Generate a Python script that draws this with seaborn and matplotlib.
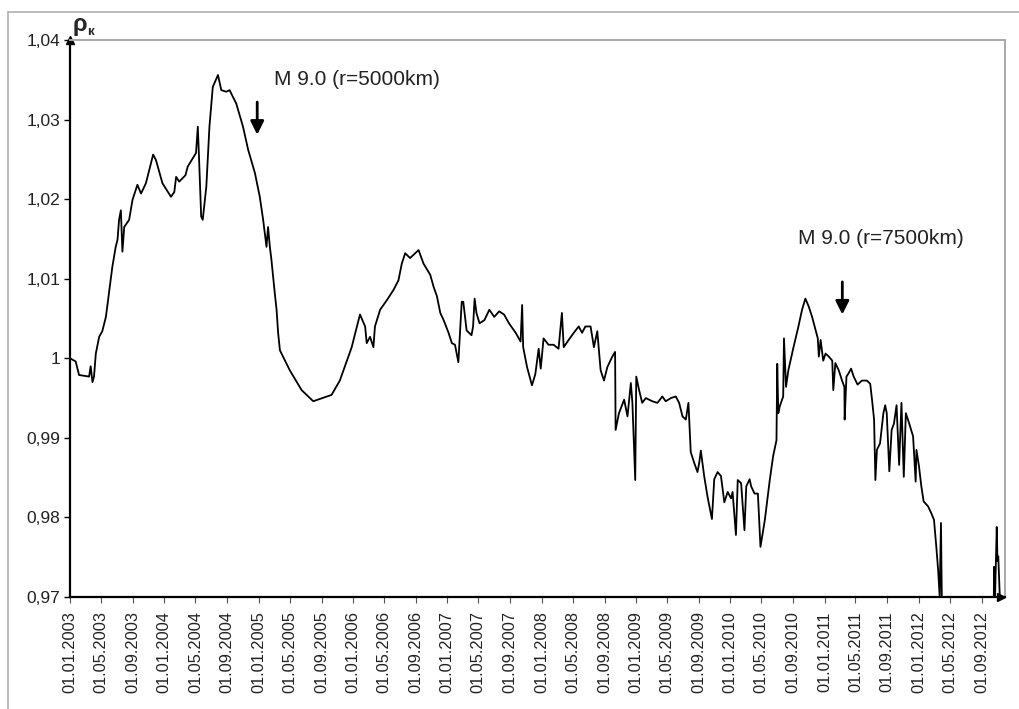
import pandas as pd
import matplotlib
matplotlib.use("Agg")
import matplotlib.pyplot as plt
import matplotlib.dates as mdates
from matplotlib.ticker import MultipleLocator, FuncFormatter
from matplotlib.lines import Line2D
import seaborn as sns

# --- data ---
dates = [
    "2003-01-01", "2003-01-23", "2003-02-05", "2003-03-16", "2003-03-22", "2003-03-29", "2003-04-04",
    "2003-04-11", "2003-04-24", "2003-05-06", "2003-05-20", "2003-06-01", "2003-06-14", "2003-06-27",
    "2003-07-04", "2003-07-10", "2003-07-17", "2003-07-23", "2003-07-30", "2003-08-18", "2003-08-31",
    "2003-09-19", "2003-10-03", "2003-10-22", "2003-11-19", "2003-11-30", "2003-12-25",
    "2004-01-27", "2004-02-09", "2004-02-16", "2004-02-28", "2004-03-23", "2004-04-01", "2004-04-20",
    "2004-05-03", "2004-05-10", "2004-05-14", "2004-05-23", "2004-05-29", "2004-06-12", "2004-06-24",
    "2004-07-07", "2004-07-27", "2004-08-09", "2004-08-28", "2004-09-10", "2004-10-06", "2004-11-01",
    "2004-11-21", "2004-12-17",
    "2005-01-05", "2005-01-18", "2005-01-31", "2005-02-06", "2005-02-13", "2005-02-19", "2005-03-04",
    "2005-03-11", "2005-03-17", "2005-03-24", "2005-05-01", "2005-06-16", "2005-07-31", "2005-10-10",
    "2005-11-11", "2005-12-27",
    "2006-01-28", "2006-02-17", "2006-02-23", "2006-03-08", "2006-03-21", "2006-03-27", "2006-04-16",
    "2006-05-12", "2006-06-07", "2006-06-26", "2006-07-09", "2006-07-22", "2006-08-10", "2006-09-12",
    "2006-10-01", "2006-10-27", "2006-11-09", "2006-11-22", "2006-12-05", "2006-12-18",
    "2007-01-06", "2007-01-19", "2007-01-31", "2007-02-13", "2007-02-26", "2007-03-04", "2007-03-17",
    "2007-04-05", "2007-04-11", "2007-04-17", "2007-04-24", "2007-05-06", "2007-05-25", "2007-06-13",
    "2007-07-02", "2007-07-21", "2007-08-09", "2007-08-28", "2007-09-23", "2007-10-12", "2007-10-18",
    "2007-10-22", "2007-11-06", "2007-11-25", "2007-12-08", "2007-12-21", "2007-12-29",
    "2008-01-09", "2008-01-28", "2008-02-17", "2008-03-07", "2008-03-20", "2008-03-27", "2008-04-15",
    "2008-05-05", "2008-05-24", "2008-06-06", "2008-06-19", "2008-07-09", "2008-07-22", "2008-08-04",
    "2008-08-17", "2008-08-30", "2008-09-12", "2008-10-01", "2008-10-12", "2008-10-14", "2008-10-27",
    "2008-11-16", "2008-11-29", "2008-12-12", "2008-12-18", "2008-12-29",
    "2009-01-02", "2009-01-13", "2009-01-25", "2009-02-08", "2009-03-05", "2009-03-25", "2009-04-13",
    "2009-04-26", "2009-05-16", "2009-06-04", "2009-06-17", "2009-06-30", "2009-07-13", "2009-07-23",
    "2009-08-01", "2009-08-14", "2009-08-27", "2009-09-03", "2009-09-09", "2009-09-22", "2009-10-05",
    "2009-10-22", "2009-10-31", "2009-11-13", "2009-11-26", "2009-12-09", "2009-12-22",
    "2010-01-04", "2010-01-10", "2010-01-23", "2010-01-30", "2010-02-12", "2010-02-25", "2010-03-04",
    "2010-03-17", "2010-03-23", "2010-04-05", "2010-04-18", "2010-04-28", "2010-05-15", "2010-06-03",
    "2010-06-16", "2010-06-29", "2010-07-02", "2010-07-06", "2010-07-12", "2010-07-25", "2010-07-28",
    "2010-08-05", "2010-08-14", "2010-09-03", "2010-09-22", "2010-10-06", "2010-10-19", "2010-11-01",
    "2010-11-14", "2010-11-27", "2010-12-06", "2010-12-10", "2010-12-17", "2010-12-27",
    "2011-01-05", "2011-01-18", "2011-01-31", "2011-02-04", "2011-02-12", "2011-02-25", "2011-03-10",
    "2011-03-19", "2011-03-20", "2011-03-27", "2011-04-04", "2011-04-14", "2011-04-24", "2011-05-09",
    "2011-05-26", "2011-06-14", "2011-06-27", "2011-07-04", "2011-07-12", "2011-07-17", "2011-07-23",
    "2011-08-04", "2011-08-17", "2011-08-24", "2011-08-30", "2011-09-09", "2011-09-18", "2011-09-27",
    "2011-10-07", "2011-10-17", "2011-10-26", "2011-11-04", "2011-11-12", "2011-11-25", "2011-12-10",
    "2011-12-20", "2011-12-23",
    "2012-01-02", "2012-01-11", "2012-01-20", "2012-02-06", "2012-02-19", "2012-02-29", "2012-03-09",
    "2012-03-16", "2012-03-22", "2012-03-27", "2012-04-01", "2012-07-01", "2012-10-16", "2012-10-19",
    "2012-10-21", "2012-10-29", "2012-11-01", "2012-11-04", "2012-11-11",
]
rho = [
    1.0000, 0.9996, 0.9979, 0.9977, 0.9990, 0.9970, 0.9977,
    1.0006, 1.0027, 1.0034, 1.0052, 1.0082, 1.0115, 1.0140,
    1.0149, 1.0174, 1.0186, 1.0134, 1.0165, 1.0174, 1.0199,
    1.0218, 1.0207, 1.0220, 1.0256, 1.0249, 1.0220,
    1.0203, 1.0209, 1.0228, 1.0222, 1.0230, 1.0241, 1.0251,
    1.0258, 1.0291, 1.0258, 1.0178, 1.0174, 1.0216, 1.0291,
    1.0341, 1.0356, 1.0337, 1.0335, 1.0337, 1.0320, 1.0291,
    1.0262, 1.0233,
    1.0203, 1.0174, 1.0140, 1.0165, 1.0140, 1.0124, 1.0082,
    1.0061, 1.0032, 1.0010, 0.9985, 0.9960, 0.9946, 0.9954,
    0.9972, 1.0014,
    1.0055, 1.0040, 1.0019, 1.0027, 1.0014, 1.0040, 1.0061,
    1.0073, 1.0086, 1.0098, 1.0119, 1.0132, 1.0126, 1.0136,
    1.0119, 1.0105, 1.0090, 1.0078, 1.0057, 1.0048,
    1.0032, 1.0019, 1.0017, 0.9995, 1.0071, 1.0071, 1.0035,
    1.0029, 1.0040, 1.0075, 1.0057, 1.0044, 1.0048, 1.0061,
    1.0052, 1.0059, 1.0055, 1.0044, 1.0032, 1.0021, 1.0067,
    1.0014, 0.9989, 0.9966, 0.9980, 1.0012, 0.9987,
    1.0025, 1.0017, 1.0017, 1.0012, 1.0057, 1.0014, 1.0023,
    1.0032, 1.0040, 1.0032, 1.0040, 1.0040, 1.0014, 1.0034,
    0.9985, 0.9972, 0.9989, 1.0002, 1.0008, 0.9910, 0.9931,
    0.9948, 0.9927, 0.9969, 0.9944, 0.9847,
    0.9977, 0.9960, 0.9944, 0.9950, 0.9946, 0.9944, 0.9952,
    0.9946, 0.9950, 0.9952, 0.9944, 0.9927, 0.9923, 0.9944,
    0.9882, 0.9869, 0.9857, 0.9869, 0.9884, 0.9852, 0.9826,
    0.9798, 0.9848, 0.9857, 0.9852, 0.9819, 0.9832,
    0.9824, 0.9832, 0.9778, 0.9847, 0.9843, 0.9784, 0.9839,
    0.9848, 0.9839, 0.9830, 0.9830, 0.9763, 0.9797, 0.9847,
    0.9877, 0.9897, 0.9993, 0.9931, 0.9940, 0.9952, 1.0025,
    0.9964, 0.9985, 1.0014, 1.0040, 1.0061, 1.0075, 1.0065,
    1.0052, 1.0036, 1.0025, 1.0002, 1.0023, 0.9997,
    1.0006, 1.0002, 0.9997, 0.9960, 0.9994, 0.9985, 0.9972,
    0.9964, 0.9923, 0.9977, 0.9981, 0.9987, 0.9977, 0.9967,
    0.9972, 0.9972, 0.9968, 0.9948, 0.9923, 0.9847, 0.9885,
    0.9893, 0.9931, 0.9941, 0.9931, 0.9858, 0.9910, 0.9918,
    0.9941, 0.9866, 0.9944, 0.9851, 0.9931, 0.9918, 0.9902,
    0.9845, 0.9885,
    0.9864, 0.9839, 0.9820, 0.9814, 0.9805, 0.9797, 0.9763,
    0.9734, 0.9701, 0.9793, 0.9650, 0.9620, 0.9660, 0.9738,
    0.9680, 0.9788, 0.9745, 0.9751, 0.9690,
]

quakes = ["2004-12-26", "2011-03-11"]
quake_labels = ["M 9.0 (r=5000km)", "M 9.0 (r=7500km)"]

df = pd.DataFrame({"date": pd.to_datetime(dates), "rho": rho})

sns.set_style("white")
plt.rcParams["font.family"] = ["Liberation Sans", "DejaVu Sans"]

fig = plt.figure(figsize=(10.2, 7.09), dpi=100)
ax = fig.add_axes([70 / 1020, 1 - 597 / 709, 935 / 1020, 557 / 709])

sns.lineplot(data=df, x="date", y="rho", ax=ax, color="black", lw=1.3, estimator=None)

ax.set_xlim(pd.Timestamp("2003-01-01"), pd.Timestamp("2012-11-30"))
ax.set_ylim(0.97, 1.04)
ax.set_xlabel("")
ax.set_ylabel("")

# y axis: 0,97 ... 1,04 with comma decimals
def fmt_y(v, pos):
    s = f"{v:.2f}".rstrip("0").rstrip(".")
    return s.replace(".", ",")

ax.yaxis.set_major_locator(MultipleLocator(0.01))
ax.yaxis.set_major_formatter(FuncFormatter(fmt_y))
ax.tick_params(axis="y", which="major", direction="out", length=4, width=1,
               color="black", pad=3, labelsize=12.5, labelcolor="#222222", left=True)

# x axis: label every 4 months, long crossing tick every year
ax.xaxis.set_major_locator(mdates.MonthLocator(bymonth=[1, 5, 9]))
ax.xaxis.set_major_formatter(mdates.DateFormatter("%d.%m.%Y"))
ax.xaxis.set_minor_locator(mdates.YearLocator())
ax.tick_params(axis="x", which="major", direction="out", length=4.3, width=0.8,
               color="#555555", pad=6, labelsize=11.8, labelcolor="#222222",
               labelrotation=90, bottom=True)
ax.tick_params(axis="x", which="minor", direction="inout", length=11.5, width=1.1,
               color="black", bottom=True)

for side in ["left", "bottom"]:
    ax.spines[side].set_color("black")
    ax.spines[side].set_linewidth(1.6)
for side in ["top", "right"]:
    ax.spines[side].set_color("#a8a8a8")
    ax.spines[side].set_linewidth(1.4)

# axis arrow heads
ax.plot(0, 1, "^", color="black", ms=6, transform=ax.transAxes, clip_on=False)
ax.plot(0.996, 0, ">", color="black", ms=6, transform=ax.transAxes, clip_on=False)

# earthquake markers
arrow_top = [1.0322, 1.0096]
arrow_tip = [1.0281, 1.0055]
text_pos = [("2005-03-02", 1.0350), ("2010-09-19", 1.0150)]
for q, lab, y0, y1, (tx, ty) in zip(quakes, quake_labels, arrow_top, arrow_tip, text_pos):
    qd = pd.Timestamp(q)
    ax.annotate("", xy=(qd, y1), xytext=(qd, y0),
                arrowprops=dict(arrowstyle="-|>", color="black", lw=2,
                                mutation_scale=20, shrinkA=0, shrinkB=0))
    ax.text(pd.Timestamp(tx), ty, lab, fontsize=15, color="#222222", ha="left", va="center")

# axis name rho_k
fig.text(73 / 1020, 1 - 31 / 709, "ρ", fontsize=17, fontweight="bold", va="baseline")
fig.text(87 / 1020, 1 - 35 / 709, "к", fontsize=9.5, fontweight="bold", va="baseline")

# outer chart frame (top and left edges visible)
fig.add_artist(Line2D([8 / 1020, 1], [1 - 12 / 709, 1 - 12 / 709], color="#b0b0b0", lw=1.2))
fig.add_artist(Line2D([8 / 1020, 8 / 1020], [0, 1 - 12 / 709], color="#b0b0b0", lw=1.2))

fig.savefig("out.png", dpi=100)
